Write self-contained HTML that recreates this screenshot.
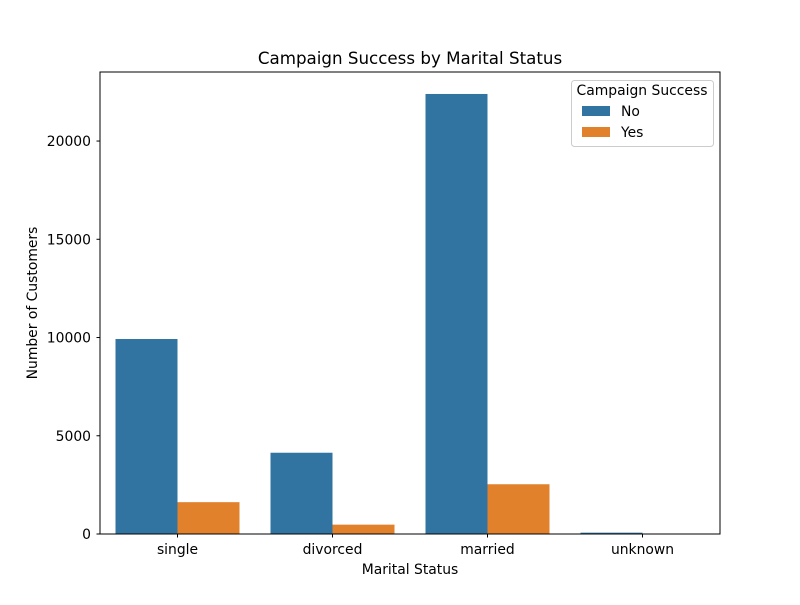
<!DOCTYPE html>
<html><head><meta charset="utf-8"><style>
body{margin:0;background:#fff;font-family:"Liberation Sans","DejaVu Sans",sans-serif;}
svg text{font-family:"DejaVu Sans","Liberation Sans",sans-serif;}
</style></head><body>
<svg id="chart" width="800" height="600" viewBox="0 0 800 600">
<rect width="800" height="600" fill="#fff"/>
<text x="410" y="64" text-anchor="middle" font-size="16.7" fill="#000">Campaign Success by Marital Status</text>
<g id="bars"></g>
<g id="yticks"></g>
<g id="xticks"></g>
<rect x="100" y="72" width="620" height="462" fill="none" stroke="#000" stroke-width="1"/>
<text x="410" y="574" text-anchor="middle" font-size="13.9">Marital Status</text>
<text transform="translate(37,303) rotate(-90)" text-anchor="middle" font-size="13.9">Number of Customers</text>
<g>
<rect x="571.5" y="80.5" width="142" height="66" rx="3" fill="#fff" fill-opacity="0.8" stroke="#ccc"/>
<text x="642" y="95" text-anchor="middle" font-size="13.9">Campaign Success</text>
<rect x="582" y="106" width="28" height="10" fill="#3274a1"/>
<text x="621" y="116" font-size="13.9">No</text>
<rect x="582" y="127" width="28" height="10" fill="#e1812c"/>
<text x="621" y="137" font-size="13.9">Yes</text>
</g>
</svg>
<script>
const categories=["single","divorced","married","unknown"];
const noValues=[9924,4136,22396,68];
const yesValues=[1620,476,2532,12];
const yTickValues=[0,5000,10000,15000,20000];
const ns="http://www.w3.org/2000/svg";
const L=100,R=720,T=72,B=534;
const yMax=23514;
function y(v){return B-(v/yMax)*(B-T);}
const band=(R-L)/categories.length;
function xc(i){return L+band*(i+0.5);}
const bw=band*0.4;
function mk(tag,attrs,parent){const e=document.createElementNS(ns,tag);for(const k in attrs)e.setAttribute(k,attrs[k]);parent.appendChild(e);return e;}
const bars=document.getElementById('bars');
categories.forEach((c,i)=>{
  let r=mk('rect',{x:xc(i)-bw,y:y(noValues[i]),width:bw,height:B-y(noValues[i]),fill:'#3274a1'},bars);
  
  
  let r2=mk('rect',{x:xc(i),y:y(yesValues[i]),width:bw,height:B-y(yesValues[i]),fill:'#e1812c'},bars);
  
  
});
const yt=document.getElementById('yticks');
yTickValues.forEach(v=>{
  let l=mk('line',{x1:L-3.5,x2:L,y1:y(v),y2:y(v),stroke:'#000'},yt);
  
  
  let t=mk('text',{x:L-9,y:y(v)+5,'text-anchor':'end','font-size':'13.9'},yt);
  t.textContent=v;
  
  
});
const xt=document.getElementById('xticks');
categories.forEach((c,i)=>{
  let l=mk('line',{x1:xc(i),x2:xc(i),y1:B,y2:B+3.5,stroke:'#000'},xt);
  
  
  let t=mk('text',{x:xc(i),y:B+20,'text-anchor':'middle','font-size':'13.9'},xt);
  t.textContent=c;
  
  
});
</script>
</body></html>
